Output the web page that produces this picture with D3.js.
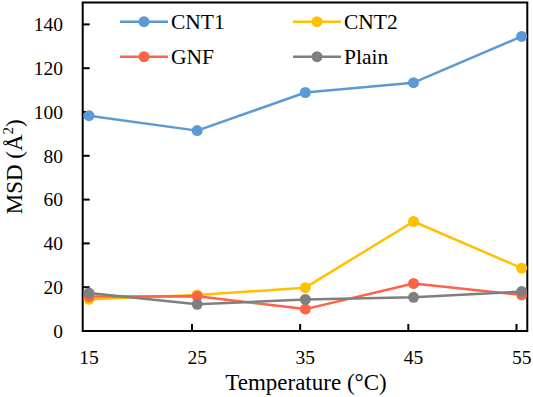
<!DOCTYPE html>
<html>
<head>
<meta charset="utf-8">
<script src="https://cdn.jsdelivr.net/npm/d3@7"></script>
<style>
  html, body { margin: 0; padding: 0; background: #fff; }
  svg text, svg tspan { font-family: "Liberation Serif", "Times New Roman", Tinos !important; }
</style>
</head>
<body>
<svg id="chart" width="533" height="397" style="font-family: 'Liberation Serif', 'Times New Roman'"></svg>
<script>
const temperatures = [15, 25, 35, 45, 55];
const cnt1 = [98.3, 91.5, 108.9, 113.4, 134.5];
const cnt2 = [14.5, 16.4, 19.8, 50.0, 28.7];
const gnf = [15.7, 15.9, 10.0, 21.7, 16.5];
const plain = [17.3, 12.2, 14.4, 15.4, 18.0];
const seriesNames = ["CNT1", "CNT2", "GNF", "Plain"];
const seriesColors = ["#5B9BD5", "#FFC000", "#FF6347", "#7F7F7F"];
const yTicks = [0, 20, 40, 60, 80, 100, 120, 140];
const xTicks = [15, 25, 35, 45, 55];

const seriesValues = [cnt1, cnt2, gnf, plain];

const svg = d3.select("#chart");
const fontStyle = "font-family: 'Liberation Serif', 'Times New Roman', Tinos";
const frame = { left: 82.7, right: 527.3, top: 2.5, bottom: 331 };

const x = d3.scaleLinear().domain([15, 55]).range([89, 521.7]);
const y = d3.scaleLinear().domain([0, 150]).range([frame.bottom, frame.top]);

// frame
svg.append("rect")
  .attr("x", frame.left).attr("y", frame.top)
  .attr("width", frame.right - frame.left).attr("height", frame.bottom - frame.top)
  .attr("fill", "none").attr("stroke", "#000").attr("stroke-width", 2);

// y ticks (inward)
svg.selectAll(".ytick").data(yTicks).enter().append("line")
  .attr("x1", frame.left).attr("x2", frame.left + 7)
  .attr("y1", d => y(d)).attr("y2", d => y(d))
  .attr("stroke", "#000").attr("stroke-width", 2);
svg.selectAll(".ylab").data(yTicks).enter().append("text")
  .attr("style", fontStyle)
  .attr("x", 63).attr("y", d => y(d)).attr("dy", "0.35em")
  .attr("text-anchor", "end").attr("font-size", 19.5)
  .text(d => d);

// x ticks (inward)
svg.selectAll(".xtick").data(xTicks.slice(1)).enter().append("line")
  .attr("x1", d => x(d) - 5.2).attr("x2", d => x(d) - 5.2)
  .attr("y1", frame.bottom).attr("y2", frame.bottom - 7)
  .attr("stroke", "#000").attr("stroke-width", 2);
svg.selectAll(".xlab").data(xTicks).enter().append("text")
  .attr("style", fontStyle)
  .attr("x", d => x(d)).attr("y", 364)
  .attr("text-anchor", "middle").attr("font-size", 19.5)
  .text(d => d);

// axis titles
svg.append("text")
  .attr("style", fontStyle)
  .attr("x", (frame.left + frame.right) / 2 + 1).attr("y", 390)
  .attr("text-anchor", "middle").attr("font-size", 23)
  .text("Temperature (°C)");

const yt = svg.append("text")
  .attr("style", fontStyle)
  .attr("transform", `translate(22,${(frame.top + frame.bottom) / 2}) rotate(-90)`)
  .attr("text-anchor", "middle").attr("font-size", 23);
yt.append("tspan").text("MSD (Å");
yt.append("tspan").attr("font-size", 15).attr("dy", -9).text("2");
yt.append("tspan").attr("dy", 9).text(")");

// lines
const line = d3.line().x((d, i) => x(temperatures[i])).y(d => y(d));
seriesValues.forEach((vals, k) => {
  const g = svg.append("g");
  g.append("path").datum(vals)
    .attr("d", line).attr("fill", "none")
    .attr("stroke", seriesColors[k]).attr("stroke-width", 2.5)
    .attr("stroke-linejoin", "round");
  g.selectAll("circle").data(vals).enter().append("circle")
    .attr("cx", (d, i) => x(temperatures[i])).attr("cy", d => y(d))
    .attr("r", 5.5).attr("fill", seriesColors[k]);
});

// legend
const legendPos = [[120, 21.7], [293, 21.7], [120, 56.7], [293, 56.7]];
seriesNames.forEach((name, k) => {
  const [lx, ly] = legendPos[k];
  const g = svg.append("g");
  g.append("line").attr("x1", lx).attr("x2", lx + 48).attr("y1", ly).attr("y2", ly)
    .attr("stroke", seriesColors[k]).attr("stroke-width", 2.5);
  g.append("circle").attr("cx", lx + 24).attr("cy", ly).attr("r", 5.5).attr("fill", seriesColors[k]);
  g.append("text").attr("style", fontStyle)
    .attr("x", lx + 51).attr("y", ly).attr("dy", "0.35em")
    .attr("font-size", 21.5).text(name);
});
</script>
</body>
</html>
